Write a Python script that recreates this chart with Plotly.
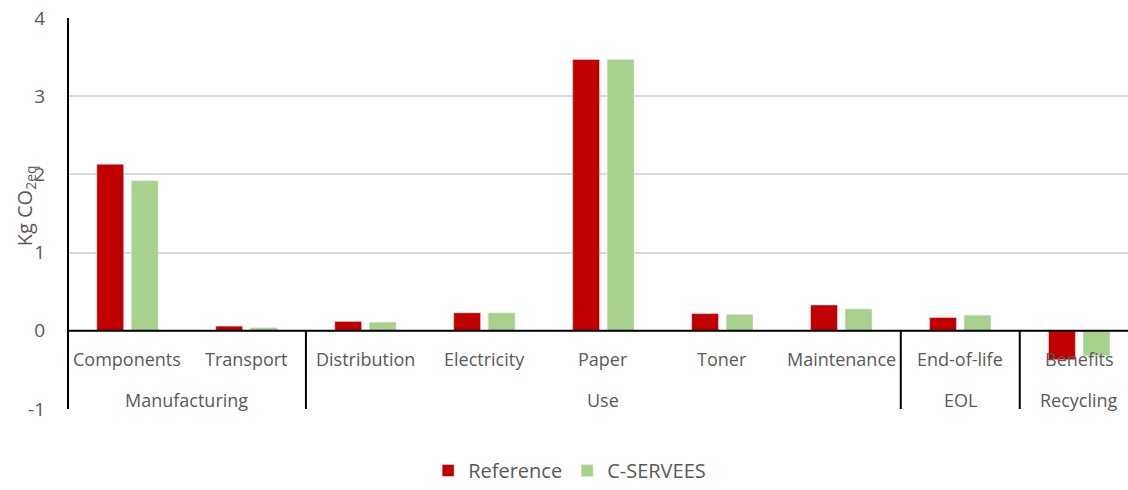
import plotly.graph_objects as go

# Life-cycle stages and their sub-processes
groups = ["Manufacturing", "Manufacturing", "Use", "Use", "Use", "Use", "Use", "EOL", "Recycling"]
stages = ["Components", "Transport", "Distribution", "Electricity", "Paper",
          "Toner", "Maintenance", "End-of-life", "Benefits"]

# Carbon footprint per stage (kg CO2 eq)
reference = [2.13, 0.06, 0.12, 0.23, 3.47, 0.22, 0.33, 0.17, -0.37]
c_servees = [1.92, 0.04, 0.11, 0.23, 3.47, 0.21, 0.28, 0.20, -0.32]

y_ticks = [-1, 0, 1, 2, 3, 4]
y_tick_text = ["-1", "0", "1", "2", "3", "4"]

FONT = "Open Sans"
TEXT_COLOR = "#595959"

fig = go.Figure()
fig.add_trace(go.Bar(name="Reference", x=stages, y=reference, marker_color="#C00000"))
fig.add_trace(go.Bar(name="C-SERVEES", x=stages, y=c_servees, marker_color="#A9D18E"))

n = len(stages)

# Sub-process labels just below the zero line
annotations = []
for s in stages:
    annotations.append(dict(x=s, y=-0.36, xref="x", yref="y", text=s, showarrow=False,
                            font=dict(family=FONT, size=18, color=TEXT_COLOR),
                            yanchor="middle", xanchor="center"))

# Group labels centred under their sub-processes
spans = {}
for i, g in enumerate(groups):
    spans.setdefault(g, []).append(i)
for g, idx in spans.items():
    annotations.append(dict(x=(idx[0] + idx[-1]) / 2, y=-0.88, xref="x", yref="y", text=g,
                            showarrow=False, font=dict(family=FONT, size=18, color=TEXT_COLOR),
                            yanchor="middle", xanchor="center"))

# Vertical axis title
annotations.append(dict(x=-0.04, y=0.52, xref="paper", yref="paper",
                        text="Kg CO<sub>2eq</sub>", textangle=-90, showarrow=False,
                        xanchor="center", yanchor="middle",
                        font=dict(family=FONT, size=20, color=TEXT_COLOR)))

# Separators between groups, running from the zero line to the bottom
shapes = []
for i in range(1, n):
    if groups[i] != groups[i - 1]:
        shapes.append(dict(type="line", xref="x", yref="y", x0=i - 0.5, x1=i - 0.5,
                           y0=0, y1=-1.05, line=dict(color="black", width=2), layer="above"))
# Zero line drawn over the bars
shapes.append(dict(type="line", xref="paper", yref="y", x0=0, x1=1, y0=0, y1=0,
                   line=dict(color="black", width=2), layer="above"))
# Vertical axis line
shapes.append(dict(type="line", xref="paper", yref="y", x0=0, x1=0, y0=4, y1=-1.05,
                   line=dict(color="black", width=2), layer="above"))

fig.update_layout(
    width=1128, height=490,
    margin=dict(l=68, r=0, t=18, b=81, autoexpand=False),
    plot_bgcolor="white", paper_bgcolor="white",
    barmode="group", bargap=0.42, bargroupgap=0.22,
    font=dict(family=FONT, size=18, color=TEXT_COLOR),
    annotations=annotations, shapes=shapes,
    legend=dict(orientation="h", xref="container", yref="container",
                x=0.505, xanchor="center", y=-0.008, yanchor="bottom",
                font=dict(family=FONT, size=20, color=TEXT_COLOR),
                itemwidth=30, tracegroupgap=0),
    xaxis=dict(range=[-0.5, n - 0.59], showticklabels=False, showgrid=False,
               zeroline=False, showline=False, ticks=""),
    yaxis=dict(range=[-1, 4], tickvals=y_ticks, ticktext=y_tick_text,
               showgrid=True, gridcolor="#D9D9D9",
               gridwidth=1.5, zeroline=False, showline=False, ticks="",
               ticklabelstandoff=22,
               tickfont=dict(family=FONT, size=19, color=TEXT_COLOR)),
)

fig.write_html("out.html")
